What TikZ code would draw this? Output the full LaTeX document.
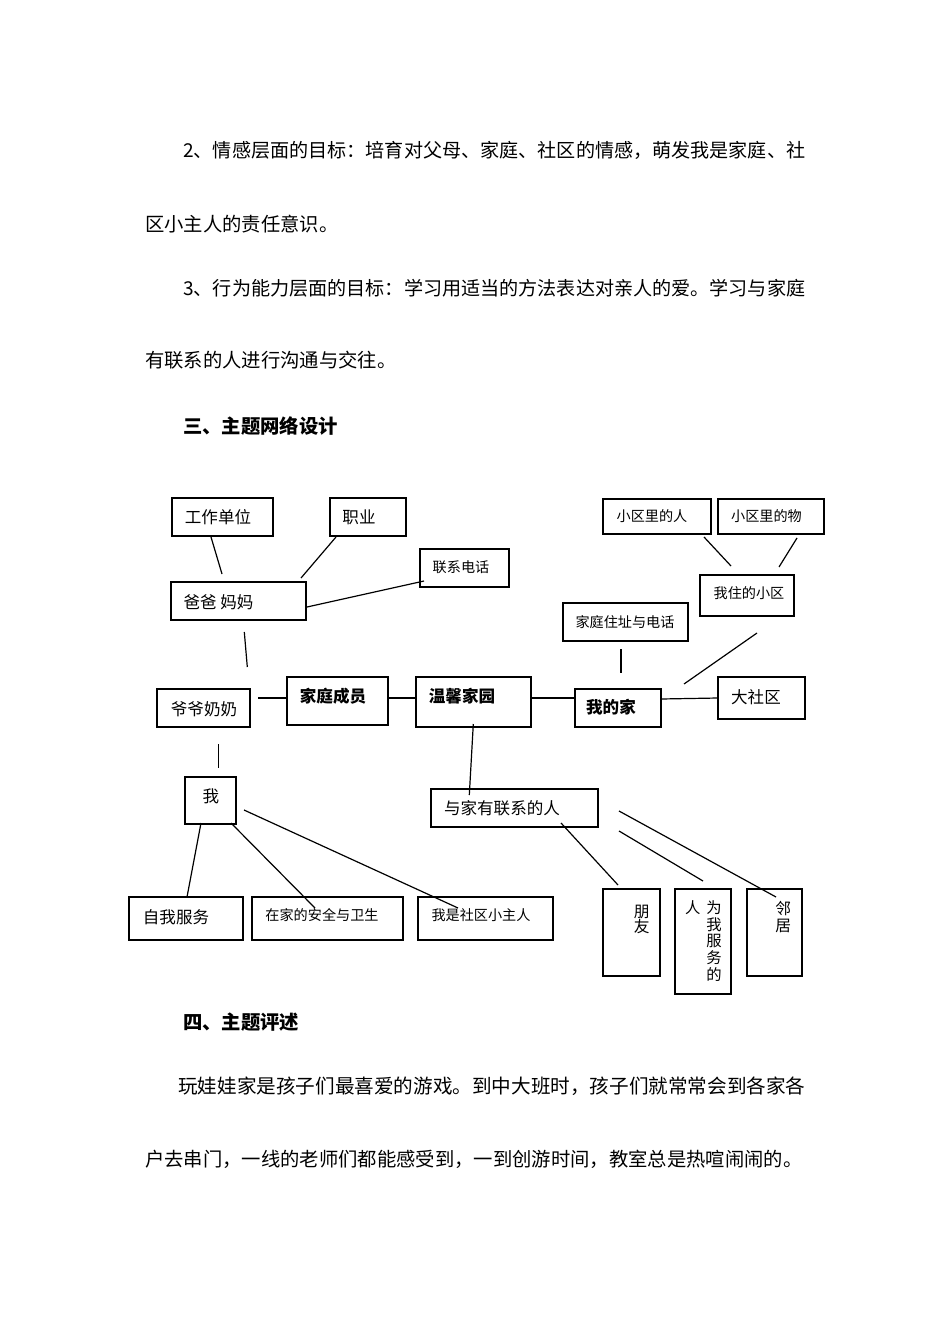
\documentclass[tikz,border=0pt]{standalone}
\usepackage{fontspec}
\setmainfont{Noto Sans CJK SC}
\newcommand\bx[5]{\node[boxs,minimum width={(#4-#2)*0.75pt},minimum height={(#5-#3)*0.75pt}] (#1) at ({(#2+#4)/2},{(#3+#5)/2}) {};}
\tikzset{
  boxs/.style={draw,line width=0.9pt,rectangle,inner sep=0pt,outer sep=0pt},
  txt/.style={inner sep=0pt,text height=0.88em,text depth=0.12em},
  body/.style={txt,anchor=west,font=\fontsize{14.5}{17}\selectfont},
  head/.style={body,font=\fontsize{14.5}{17}\selectfont\bfseries},
  big/.style={txt,font=\fontsize{12.4}{14}\selectfont},
  bigb/.style={txt,font=\fontsize{12.4}{14}\selectfont\bfseries},
  small/.style={txt,font=\fontsize{10.6}{13}\selectfont},
  conn/.style={line width=0.9pt}
}
\begin{document}
\begin{tikzpicture}[x=0.75pt,y=-0.75pt]
\useasboundingbox (0,0) rectangle (950,1344);
\fill[white] (0,0) rectangle (950,1344);
% body text
\node[body,font=\fontsize{14.33}{17}\selectfont] (l1) at (183,152) {2、情感层面的目标：培育对父母、家庭、社区的情感，萌发我是家庭、社};
\node[body] (l2) at (145,226) {区小主人的责任意识。};
\node[body,font=\fontsize{14.33}{17}\selectfont] (l3) at (183,290) {3、行为能力层面的目标：学习用适当的方法表达对亲人的爱。学习与家庭};
\node[body] (l4) at (145,362) {有联系的人进行沟通与交往。};
\node[head] (h3) at (183,428) {三、主题网络设计};
\node[head] (h4) at (183,1024) {四、主题评述};
\node[body,font=\fontsize{14.7}{17}\selectfont] (p1) at (178,1088) {玩娃娃家是孩子们最喜爱的游戏。到中大班时，孩子们就常常会到各家各};
\node[body] (p2) at (145,1161) {户去串门，一线的老师们都能感受到，一到创游时间，教室总是热喧闹闹的。};
% boxes
\bx{gzdw}{172}{498}{273}{536}
\bx{zy}{330}{498}{406}{536}
\bx{lxdh}{420}{549}{509}{587}
\bx{bbmm}{171}{582}{306}{620}
\bx{yyn}{157}{689}{250}{727}
\bx{jtcy}{287}{677}{388}{725}
\bx{wxjy}{416}{677}{531}{727}
\bx{wdj}{575}{689}{661}{727}
\bx{dsq}{718}{677}{805}{719}
\bx{jtzz}{563}{603}{688}{641}
\bx{wzdxq}{700}{575}{794}{616}
\bx{xqr}{603}{499}{711}{534}
\bx{xqw}{718}{499}{824}{534}
\bx{wo}{185}{777}{236}{824}
\bx{zwfw}{129}{897}{243}{940}
\bx{zjaq}{252}{897}{403}{940}
\bx{sqzr}{418}{897}{553}{940}
\bx{yjlx}{431}{789}{598}{827}
\bx{py}{603}{889}{660}{976}
\bx{wwfw}{675}{889}{731}{994}
\bx{lj}{747}{889}{802}{976}
% texts
\node[big] (t-gzdw) at (218,518) {工作单位};
\node[big] (t-zy) at (359,518) {职业};
\node[small] (t-lxdh) at (461,567) {联系电话};
\node[big] (t-bbmm) at (218.5,603) {爸爸 妈妈};
\node[big] (t-yyn) at (204,710) {爷爷奶奶};
\node[bigb] (t-jtcy) at (333,697) {家庭成员};
\node[bigb] (t-wxjy) at (462,697) {温馨家园};
\node[bigb] (t-wdj) at (611,708) {我的家};
\node[big] (t-dsq) at (756,698) {大社区};
\node[small] (t-jtzz) at (625,622) {家庭住址与电话};
\node[small] (t-wzdxq) at (749,593) {我住的小区};
\node[small] (t-xqr) at (652,516) {小区里的人};
\node[small] (t-xqw) at (766.5,516) {小区里的物};
\node[big] (t-wo) at (211,797) {我};
\node[big] (t-zwfw) at (176,918) {自我服务};
\node[small] (t-zjaq) at (322,915.5) {在家的安全与卫生};
\node[small] (t-sqzr) at (481,915.5) {我是社区小主人};
\node[big] (t-yjlx) at (502,809) {与家有联系的人};
\node[inner sep=0pt,align=center,anchor=north,font=\fontsize{11.8}{11.2}\selectfont] (t-py) at (641.7,905) {朋\\友};
\node[inner sep=0pt,align=center,anchor=north,font=\fontsize{11.5}{12.5}\selectfont] (t-wwfw) at (714,900.5) {为\\我\\服\\务\\的};
\node[inner sep=0pt,align=center,anchor=north,font=\fontsize{11.5}{12.5}\selectfont] (t-ren) at (692.7,900.5) {人};
\node[inner sep=0pt,align=center,anchor=north,font=\fontsize{11.8}{13}\selectfont] (t-lj) at (783.3,901) {邻\\居};
% connector ends
\coordinate (a1) at (211,537);   \coordinate (b1) at (222,574);
\coordinate (a2) at (336,537);   \coordinate (b2) at (301,578);
\coordinate (a3) at (424,581);   \coordinate (b3) at (307,607);
\coordinate (a4) at (244.3,632); \coordinate (b4) at (247.3,667);
\coordinate (a5) at (258,698);   \coordinate (b5) at (287,698);
\coordinate (a6) at (388,698);   \coordinate (b6) at (416,698);
\coordinate (a7) at (531,698);   \coordinate (b7) at (575,698);
\coordinate (a8) at (661,699);   \coordinate (b8) at (718,698);
\coordinate (a9) at (621,649);   \coordinate (b9) at (621,673);
\coordinate (a10) at (757,633);  \coordinate (b10) at (684,684);
\coordinate (a11) at (704,537);  \coordinate (b11) at (731,566);
\coordinate (a12) at (797,538);  \coordinate (b12) at (779,567);
\coordinate (a13) at (218.3,744);\coordinate (b13) at (218.3,768);
\coordinate (a14) at (473.3,724);\coordinate (b14) at (469.3,795);
\coordinate (a15) at (201,823);  \coordinate (b15) at (187,897);
\coordinate (a16) at (231,823);  \coordinate (b16) at (315,908);
\coordinate (a17) at (244,810);  \coordinate (b17) at (458,908);
\coordinate (a18) at (561,823);  \coordinate (b18) at (618,885);
\coordinate (a19) at (619,831);  \coordinate (b19) at (703,881);
\coordinate (a20) at (619,811);  \coordinate (b20) at (776,897);
\foreach \i in {1,...,20} {\draw[conn] (a\i) -- (b\i);}
\end{tikzpicture}
\end{document}
